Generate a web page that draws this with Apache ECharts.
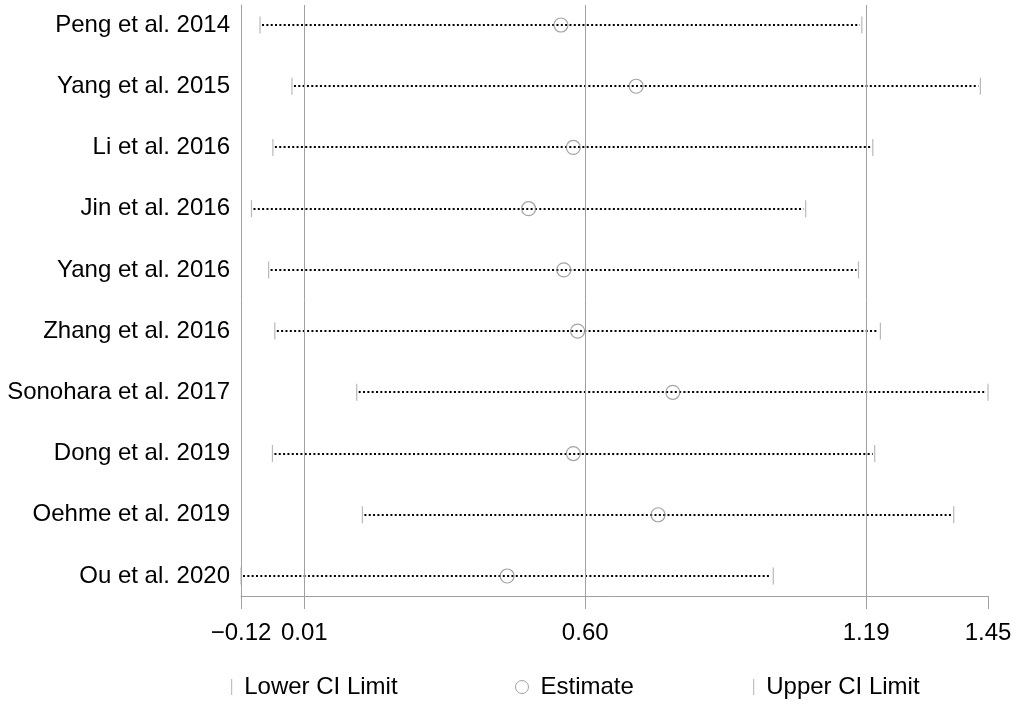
<!DOCTYPE html>
<html>
<head>
<meta charset="utf-8">
<script src="https://cdn.jsdelivr.net/npm/echarts@6/dist/echarts.min.js"></script>
<style>
html,body{margin:0;padding:0;background:#fff;}
#chart{width:1020px;height:705px;}
</style>
</head>
<body>
<div id="chart"></div>
<script>
const studies = ["Peng et al. 2014","Yang et al. 2015","Li et al. 2016","Jin et al. 2016","Yang et al. 2016","Zhang et al. 2016","Sonohara et al. 2017","Dong et al. 2019","Oehme et al. 2019","Ou et al. 2020"];
const lowerCI  = [-0.083, -0.016, -0.056, -0.101, -0.065, -0.052, 0.120, -0.057, 0.132, -0.123];
const estimate = [0.549, 0.707, 0.575, 0.481, 0.555, 0.584, 0.784, 0.575, 0.753, 0.436];
const upperCI  = [1.181, 1.430, 1.204, 1.063, 1.174, 1.220, 1.446, 1.208, 1.374, 0.995];
const xTickValues = [-0.123, 0.01, 0.60, 1.19, 1.446];
const xTickLabels = ["\u22120.12", "0.01", "0.60", "1.19", "1.45"];
const gridLineValues = [0.01, 0.60, 1.19];

const FONT = "'Liberation Sans', Arial, sans-serif";
const rows = studies.map((s, i) => i);

const chart = echarts.init(document.getElementById('chart'), null, {renderer: 'canvas'});
const legendBase = {
  orient: 'horizontal', padding: 0, top: 675, selectedMode: false,
  textStyle: {fontFamily: FONT, fontSize: 24, color: '#000'}
};
chart.setOption({
  animation: false,
  backgroundColor: '#fff',
  grid: {left: 241, right: 32, top: 5, bottom: 109, containLabel: false},
  xAxis: {
    type: 'value', min: -0.123, max: 1.446, position: 'bottom',
    axisLine: {show: true, onZero: false, lineStyle: {color: '#a0a0a0', width: 1}},
    axisTick: {show: true, customValues: xTickValues, length: 13, lineStyle: {color: '#a0a0a0', width: 1}},
    axisLabel: {show: true, customValues: xTickValues, margin: 25,
      fontFamily: FONT, fontSize: 24, color: '#000',
      formatter: v => { const k = xTickValues.indexOf(v); return k >= 0 ? xTickLabels[k] : ''; }},
    splitLine: {show: false}
  },
  yAxis: {
    type: 'value', inverse: true, min: -0.327, max: 9.327, position: 'left',
    axisLine: {show: true, onZero: false, lineStyle: {color: '#a0a0a0', width: 1}},
    axisTick: {show: false},
    axisLabel: {show: true, customValues: rows, margin: 11,
      fontFamily: FONT, fontSize: 24, color: '#000',
      formatter: v => studies[Math.round(v)] || ''},
    splitLine: {show: false}
  },
  legend: [
    Object.assign({}, legendBase, {left: 231, data: [{name: 'Lower CI Limit', icon: 'rect'}], itemWidth: 1.2, itemHeight: 16,
      itemStyle: {color: '#b0b0b0'}, textStyle: Object.assign({}, legendBase.textStyle, {padding: [0, 0, 0, 7]})}),
    Object.assign({}, legendBase, {left: 515, data: [{name: 'Estimate', icon: 'circle'}], itemWidth: 13, itemHeight: 13,
      itemStyle: {color: '#fff', borderColor: '#8c8c8c', borderWidth: 1}, textStyle: Object.assign({}, legendBase.textStyle, {padding: [0, 0, 0, 7]})}),
    Object.assign({}, legendBase, {left: 753, data: [{name: 'Upper CI Limit', icon: 'rect'}], itemWidth: 1.2, itemHeight: 16,
      itemStyle: {color: '#b0b0b0'}, textStyle: Object.assign({}, legendBase.textStyle, {padding: [0, 0, 0, 7]})})
  ],
  series: [
    {
      type: 'custom', name: 'ci', silent: true, z: 2,
      data: rows.map(i => [lowerCI[i], upperCI[i], i]),
      encode: {x: [0, 1], y: 2},
      renderItem: (params, api) => {
        const y = api.value(2);
        const p1 = api.coord([api.value(0), y]);
        const p2 = api.coord([api.value(1), y]);
        const yy = Math.round(p1[1]);
        return {type: 'line', shape: {x1: p1[0] + 2, y1: yy, x2: p2[0] - 2, y2: yy},
          style: {stroke: '#000', lineWidth: 2, lineDash: [2, 2.33]}};
      },
      markLine: {
        silent: true, symbol: 'none', label: {show: false},
        lineStyle: {color: '#a0a0a0', width: 1, type: 'solid'},
        data: gridLineValues.map(v => ({xAxis: v}))
      }
    },
    {type: 'scatter', name: 'Lower CI Limit', z: 3, symbol: 'rect', symbolSize: [1.2, 17],
      itemStyle: {color: '#a8a8a8'}, data: rows.map(i => [lowerCI[i], i])},
    {type: 'scatter', name: 'Estimate', z: 4, symbol: 'circle', symbolSize: 14,
      itemStyle: {color: 'rgba(0,0,0,0)', borderColor: '#8c8c8c', borderWidth: 1.2}, data: rows.map(i => [estimate[i], i])},
    {type: 'scatter', name: 'Upper CI Limit', z: 3, symbol: 'rect', symbolSize: [1.2, 17],
      itemStyle: {color: '#a8a8a8'}, data: rows.map(i => [upperCI[i], i])}
  ]
});
</script>
</body>
</html>
